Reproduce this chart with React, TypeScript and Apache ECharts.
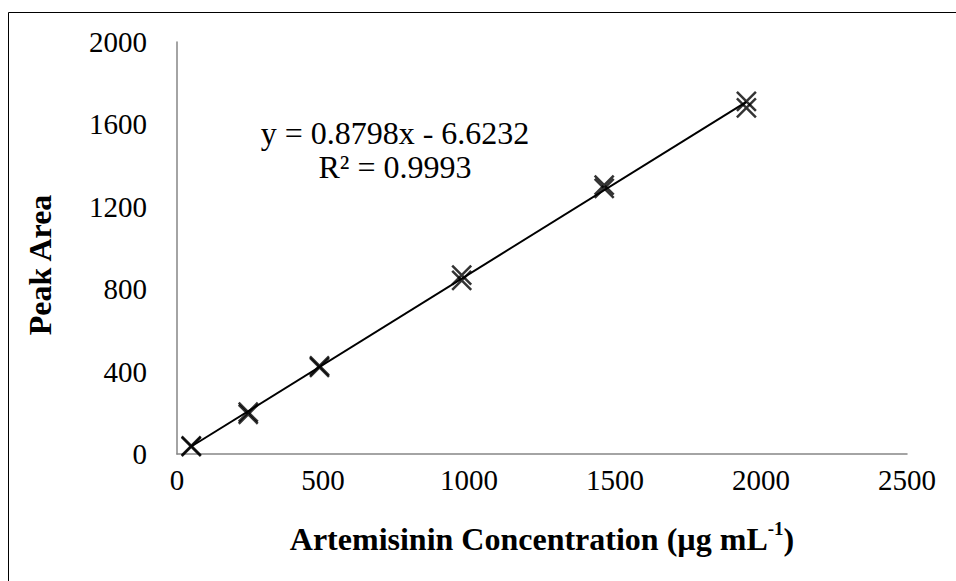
import React, { useEffect, useRef } from "react";
import * as echarts from "echarts";

// Concentrations (µg/mL) and replicate peak areas
const concentrations = [48.8, 244, 488, 975, 1463, 1950];
const peakAreaRep1 = [36, 193, 420, 843, 1290, 1680];
const peakAreaRep2 = [40, 203, 428, 868, 1305, 1712];

const xTicks = [0, 500, 1000, 1500, 2000, 2500];
const yTicks = [0, 400, 800, 1200, 1600, 2000];

const slope = 0.8798;
const intercept = -6.6232;
const trendX = [48.8, 1950];

const equationText = "y = 0.8798x - 6.6232";
const r2Text = "R\u00B2 = 0.9993";

const FONT = "'Liberation Serif', 'Times New Roman', serif";
const X_PATH = "path://M0,0L10,10M10,0L0,10";

export default function App() {
  const ref = useRef<HTMLDivElement>(null);
  useEffect(() => {
    document.body.style.margin = "0";
    const chart = echarts.init(ref.current!, null, { renderer: "svg" });
    const points: number[][] = [];
    concentrations.forEach((c, i) => {
      points.push([c, peakAreaRep1[i]]);
      points.push([c, peakAreaRep2[i]]);
    });
    const trend = trendX.map((x) => [x, slope * x + intercept]);
    chart.setOption({
      animation: false,
      backgroundColor: "#ffffff",
      grid: { left: 177, right: 49, top: 42, bottom: 127 },
      xAxis: {
        type: "value",
        min: xTicks[0],
        max: xTicks[xTicks.length - 1],
        interval: 500,
        axisLine: { lineStyle: { color: "#868686", width: 1.5 } },
        axisTick: { show: false },
        splitLine: { show: false },
        axisLabel: { color: "#000", fontFamily: FONT, fontSize: 29, margin: 11, formatter: (v: number) => String(v) },
      },
      yAxis: {
        type: "value",
        min: yTicks[0],
        max: yTicks[yTicks.length - 1],
        interval: 400,
        axisLine: { show: true, lineStyle: { color: "#868686", width: 1.5 } },
        axisTick: { show: false },
        splitLine: { show: false },
        axisLabel: { color: "#000", fontFamily: FONT, fontSize: 29, margin: 30, formatter: (v: number) => String(v) },
      },
      series: [
        {
          type: "line",
          data: trend,
          symbol: "none",
          lineStyle: { color: "#000", width: 2 },
          z: 2,
        },
        {
          type: "scatter",
          data: points,
          symbol: X_PATH,
          symbolSize: 19,
          itemStyle: { color: "none", borderColor: "#000", borderWidth: 2.5 },
          z: 3,
        },
      ],
      graphic: [
        { type: "line", shape: { x1: 8.5, y1: 12.5, x2: 960, y2: 12.5 }, style: { stroke: "#000", lineWidth: 1 } },
        { type: "line", shape: { x1: 8.5, y1: 12.5, x2: 8.5, y2: 590 }, style: { stroke: "#000", lineWidth: 1 } },
        {
          type: "text",
          x: 395,
          y: 133,
          style: { text: equationText, fontFamily: FONT, fontSize: 32, fill: "#000", align: "center", verticalAlign: "middle" },
        },
        {
          type: "text",
          x: 395,
          y: 167,
          style: { text: r2Text, fontFamily: FONT, fontSize: 32, fill: "#000", align: "center", verticalAlign: "middle" },
        },
        {
          type: "text",
          x: 40,
          y: 265,
          rotation: Math.PI / 2,
          style: { text: "Peak Area", fontFamily: FONT, fontSize: 32, fontWeight: "bold", fill: "#000", align: "center", verticalAlign: "middle" },
        },
        {
          type: "text",
          x: 542,
          y: 537,
          style: {
            text: "{b|Artemisinin Concentration (\u00B5g mL}{s|-1}{b|)}",
            align: "center",
            verticalAlign: "middle",
            rich: {
              b: { fontFamily: FONT, fontSize: 32, fontWeight: "bold", fill: "#000", lineHeight: 36, verticalAlign: "bottom" },
              s: { fontFamily: FONT, fontSize: 19, fontWeight: "bold", fill: "#000", lineHeight: 36, verticalAlign: "top", padding: [0, 0, 12, 0] },
            },
          },
        },
      ],
    });
    return () => chart.dispose();
  }, []);
  return <div ref={ref} style={{ position: "absolute", left: 0, top: 0, width: 956, height: 581 }} />;
}
